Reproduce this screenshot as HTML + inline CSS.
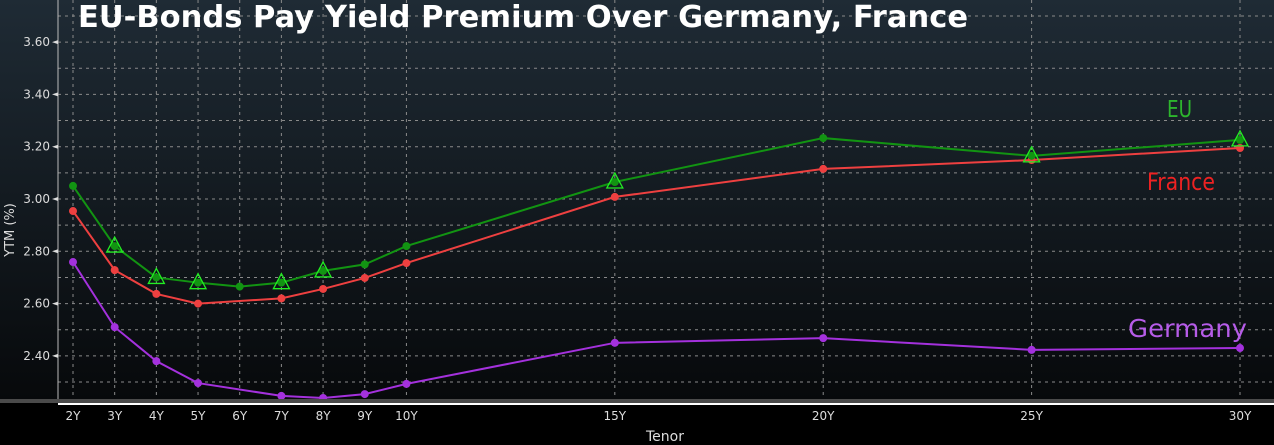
<!DOCTYPE html>
<html><head><meta charset="utf-8"><style>
html,body{margin:0;padding:0;background:#000;}
svg{display:block;font-family:"DejaVu Sans","Liberation Sans",sans-serif;}
</style></head><body>
<svg width="1274" height="445" viewBox="0 0 1274 445">
<defs>
<linearGradient id="bg" x1="0" y1="0" x2="0" y2="1">
<stop offset="0" stop-color="#1f2b35"/><stop offset="1" stop-color="#07090b"/>
</linearGradient>
<clipPath id="clip"><rect x="58" y="0" width="1216" height="400"/></clipPath>
</defs>
<rect x="0" y="0" width="1274" height="400" fill="url(#bg)"/>
<rect x="0" y="400" width="1274" height="45" fill="#000"/>
<g id="grid"></g>
<line x1="58" y1="0" x2="58" y2="400" stroke="#bbb" stroke-width="1"/>
<g id="yticks"></g>
<g id="series" clip-path="url(#clip)"></g>
<rect x="0" y="399" width="1274" height="4" fill="#4a4a4a"/>
<rect x="58" y="403" width="1216" height="2" fill="#fff"/>
<g id="xticks"></g>
<text x="78" y="27" fill="#fff" font-size="30.5" font-weight="bold" textLength="890">EU-Bonds Pay Yield Premium Over Germany, France</text>
<text x="14" y="230" fill="#ddd" font-size="13" transform="rotate(-90 14 230)" text-anchor="middle">YTM (%)</text>
<text x="665" y="441" fill="#ddd" font-size="14" text-anchor="middle">Tenor</text>
<text x="1167" y="117" fill="#2db52d" font-size="23" textLength="25" lengthAdjust="spacingAndGlyphs">EU</text>
<text x="1147" y="190" fill="#ee2222" font-size="24" textLength="68" lengthAdjust="spacingAndGlyphs">France</text>
<text x="1128" y="337" fill="#b65ce8" font-size="25" textLength="119" lengthAdjust="spacingAndGlyphs">Germany</text>
</svg>
<script>
const tenors=[2,3,4,5,6,7,8,9,10,15,20,25,30];
const euValues=[3.05,2.82,2.70,2.68,2.665,2.68,2.725,2.75,2.82,3.065,3.233,3.165,3.226];
const euTriangles=[false,true,true,true,false,true,true,false,false,true,false,true,true];
const franceTenors=[2,3,4,5,7,8,9,10,15,20,25,30];
const franceValues=[2.954,2.728,2.637,2.60,2.62,2.656,2.698,2.755,3.008,3.115,3.149,3.195];
const germanyTenors=[2,3,4,5,7,8,9,10,15,20,25,30];
const germanyValues=[2.759,2.51,2.38,2.296,2.247,2.239,2.254,2.293,2.45,2.468,2.423,2.43];
const yTickLabels=["2.40","2.60","2.80","3.00","3.20","3.40","3.60"];

const NS="http://www.w3.org/2000/svg";
function xs(t){return 73+(t-2)*(1240-73)/28;}
function ys(v){return 199-(v-3.0)*261.5;}
function mk(tag,attrs,parent){const e=document.createElementNS(NS,tag);for(const k in attrs)e.setAttribute(k,attrs[k]);parent.appendChild(e);return e;}
const grid=document.getElementById('grid'),yt=document.getElementById('yticks'),xt=document.getElementById('xticks'),ser=document.getElementById('series');
for(let k=22;k<=37;k++){const y=ys(k/10);if(y<0||y>398)continue;
 const l=mk('line',{x1:58,x2:1274,y1:y,y2:y,stroke:'#8a8a8a','stroke-width':1,'stroke-dasharray':'3,4'},grid);
 
 }
tenors.forEach(t=>{const x=xs(t);
 const l=mk('line',{x1:x,x2:x,y1:0,y2:400,stroke:'#8a8a8a','stroke-width':1,'stroke-dasharray':'3,4'},grid);
 
 
 const tx=mk('text',{x:x,y:420,fill:'#ddd','font-size':12,'text-anchor':'middle'},xt);tx.textContent=t+'Y';
 
 });
yTickLabels.forEach(s=>{const y=ys(parseFloat(s));
 const tx=mk('text',{x:50,y:y+4,fill:'#ddd','font-size':12,'text-anchor':'end'},yt);tx.textContent=s;
 
 
 const p=mk('polygon',{points:`${52},${y} ${58},${y-2} ${58},${y+2}`,fill:'#ddd'},yt);
 
 });
function drawSeries(ts,vals,color,name){
 const pl=mk('polyline',{points:ts.map((t,i)=>xs(t)+','+ys(vals[i])).join(' '),fill:'none',stroke:color,'stroke-width':2},ser);
 
 
 ts.forEach((t,i)=>{const c=mk('circle',{cx:xs(t),cy:ys(vals[i]),r:4,fill:color},ser);
  
  });}
drawSeries(germanyTenors,germanyValues,'#a431dd','germany');
drawSeries(franceTenors,franceValues,'#ee4040','france');
drawSeries(tenors,euValues,'#129412','eu');
tenors.forEach((t,i)=>{if(!euTriangles[i])return;const x=xs(t),y=ys(euValues[i]);
 const p=mk('polygon',{points:`${x},${y-9} ${x-8},${y+6} ${x+8},${y+6}`,fill:'none',stroke:'#22ee22','stroke-width':1.3},ser);
 
 });
</script>
</body></html>
